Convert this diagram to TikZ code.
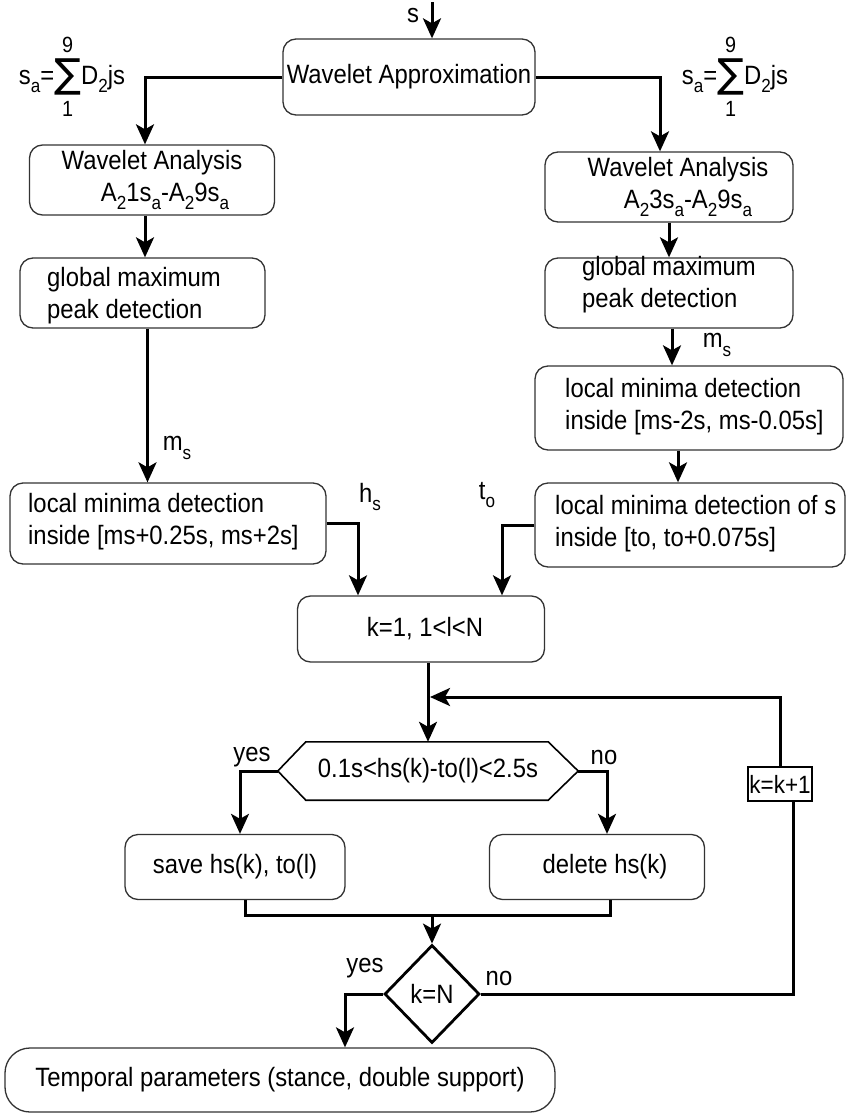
\documentclass[tikz,border=0pt]{standalone}
\usepackage{fontspec}
\setmainfont[FakeStretch=0.9]{Liberation Sans}
\newfontfamily\djv{DejaVu Sans}
\usetikzlibrary{arrows.meta,shapes.geometric}
\newcommand{\sbs}[1]{\raisebox{-0.32em}{\fontsize{19}{19}\selectfont #1}}
\newcommand{\fsz}{\fontsize{26.5}{32}\selectfont}
\newcommand{\sumlab}{s\sbs{a}=\begin{tabular}{@{}c@{}}\fontsize{22}{22}\selectfont 9\\[-3pt]{\djv\fontsize{40}{40}\selectfont ∑}\\[-3pt]\fontsize{22}{22}\selectfont 1\end{tabular}D\sbs{2}js}
\begin{document}
\begin{tikzpicture}[x=1pt,y=-1pt,font=\fsz,
  rbox/.style={draw=black!80, line width=1.3pt, rounded corners=13pt, inner sep=0pt, align=center},
  arr/.style={line width=3pt, -{Stealth[length=20pt,width=18pt,inset=5pt]}},
  ln/.style={line width=3pt},
  lbl/.style={inner sep=0pt},
  txt/.style={inner sep=0pt, align=left, anchor=west}]
\fill[white] (0,0) rectangle (846,1119);
\useasboundingbox (0,0) rectangle (846,1119);

% boxes
\node[rbox, minimum width=252pt, minimum height=76pt] (WA) at (409,77) {Wavelet Approximation};
\node[rbox, minimum width=245pt, minimum height=70pt] (WAL) at (152,180) {Wavelet Analysis\\\hspace*{26pt}A\sbs{2}1s\sbs{a}-A\sbs{2}9s\sbs{a}};
\node[rbox, minimum width=248pt, minimum height=70pt] (WAR) at (669,187) {\hspace*{18pt}Wavelet Analysis\\\hspace*{38pt}A\sbs{2}3s\sbs{a}-A\sbs{2}9s\sbs{a}};
\node[rbox, minimum width=245pt, minimum height=70pt] (GML) at (142.5,293) {};
\node[txt] (tGML) at (47,296) {global maximum\\peak detection};
\node[rbox, minimum width=248pt, minimum height=70pt] (GMR) at (669,293) {};
\node[txt] (tGMR) at (582,285) {global maximum\\peak detection};
\node[rbox, minimum width=308pt, minimum height=84pt] (LMR1) at (689,408) {};
\node[txt] (tLMR1) at (565,407) {local minima detection\\inside [ms-2s, ms-0.05s]};
\node[rbox, minimum width=316pt, minimum height=81pt] (LML) at (168,523.5) {};
\node[txt] (tLML) at (28,522) {local minima detection\\inside [ms+0.25s, ms+2s]};
\node[rbox, minimum width=310pt, minimum height=84pt] (LMR2) at (690,525) {};
\node[txt] (tLMR2) at (555,524) {local minima detection of s\\inside [to, to+0.075s]};
\node[rbox, minimum width=247pt, minimum height=66pt] (K1) at (421,629) {\hspace*{8pt}k=1, 1<l<N};
\node[inner sep=0pt, minimum width=300pt, minimum height=58pt] (hex) at (428,771) {0.1s<hs(k)-to(l)<2.5s};
\draw[line width=1.6pt] (hex.west) -- ([xshift=28pt]hex.north west) -- ([xshift=-30pt]hex.north east) -- (hex.east) -- ([xshift=-30pt]hex.south east) -- ([xshift=28pt]hex.south west) -- cycle;
\node[rbox, minimum width=220pt, minimum height=65pt] (save) at (235,867) {save hs(k), to(l)};
\node[rbox, minimum width=215pt, minimum height=65pt] (del) at (597,867) {\hspace*{16pt}delete hs(k)};
\node[diamond, draw, line width=2.8pt, inner sep=0pt, minimum width=95pt, minimum height=98pt] (dia) at (432,994) {k=N};
\node[draw, line width=2.8pt, inner sep=0pt, minimum width=64pt, minimum height=34pt, font=\fontsize{25}{26}\selectfont] (kk) at (780,784) {k=k+1};
\node[rbox, rounded corners=25pt, minimum width=550pt, minimum height=64pt] (temp) at (280,1080) {Temporal parameters (stance, double support)};

% labels
\node[lbl] (ls) at (413,16) {s};
\coordinate (sIn) at (432,2);
\node[lbl] (sumL) at (72,78) {\sumlab};
\node[lbl] (sumR) at (735,78) {\sumlab};
\node[lbl] (msL) at (177,448) {m\sbs{s}};
\node[lbl] (msR) at (717,345) {m\sbs{s}};
\node[lbl] (hsl) at (370,497) {h\sbs{s}};
\node[lbl] (tol) at (487,495) {t\sbs{o}};
\node[lbl] (yes1) at (252,757) {yes};
\node[lbl] (no1) at (604,757) {no};
\node[lbl] (yes2) at (365,968) {yes};
\node[lbl] (no2) at (499,978) {no};

% connectors
\draw[arr] (sIn) -- (sIn |- WA.north);
\draw[arr] (WA.west) -| ([xshift=-7pt]WAL.north);
\draw[arr] (WA.east) -| ([xshift=-9pt]WAR.north);
\draw[arr] ([xshift=-7pt]WAL.south) -- ([xshift=-7pt]WAL.south |- GML.north);
\draw[arr] (WAR.south) -- (WAR.south |- GMR.north);
\draw[arr] ([xshift=5pt]GML.south) -- ([xshift=5pt]GML.south |- LML.north);
\draw[arr] ([xshift=3pt]GMR.south) -- ([xshift=3pt]GMR.south |- LMR1.north);
\draw[arr] ([xshift=-11pt]LMR1.south) -- ([xshift=-11pt]LMR1.south |- LMR2.north);
\draw[arr] (LML.east) -| ([xshift=-63pt]K1.north);
\draw[arr] (LMR2.west) -| ([xshift=81pt]K1.north);
\draw[arr] ([xshift=7pt]K1.south) -- ([xshift=7pt]K1.south |- hex.north);
\coordinate (loopJ) at (430,697);
\draw[arr] (kk.north) |- (loopJ);
\draw[arr] (hex.west) -| ([xshift=5pt]save.north);
\draw[arr] (hex.east) -| ([xshift=10pt]del.north);
\coordinate (mJ) at (432,915);
\draw[ln] ([xshift=10pt]save.south) |- (mJ) -| ([xshift=13pt]del.south);
\draw[arr] (mJ) -- (dia.north);
\draw[ln] (dia.east) -| ([xshift=13pt]kk.south);
\draw[arr] (dia.west) -| ([xshift=65pt]temp.north);
\end{tikzpicture}
\end{document}
